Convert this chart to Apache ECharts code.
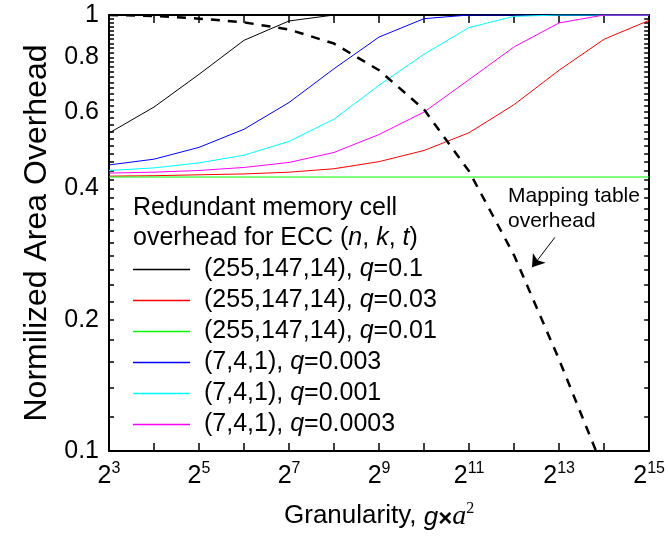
<!DOCTYPE html>
<html>
<head>
<meta charset="utf-8">
<script src="https://cdn.jsdelivr.net/npm/echarts@6/dist/echarts.min.js"></script>
<style>html,body{margin:0;padding:0;background:#fff}#c{width:668px;height:539px}</style>
</head>
<body>
<div id="c"></div>
<script>
// x positions are powers of two: 2^3 ... 2^15
const exponents = [3, 4, 5, 6, 7, 8, 9, 10, 11, 12, 13, 14, 15];
const xLabelExponents = [3, 5, 7, 9, 11, 13, 15];
const yMajorTicks = [0.1, 0.2, 0.4, 0.6, 0.8, 1];
const yMinorTicks = [0.12, 0.14, 0.16, 0.18, 0.22, 0.24, 0.26, 0.28, 0.3, 0.32, 0.34, 0.36, 0.38,
  0.42, 0.44, 0.46, 0.48, 0.5, 0.52, 0.54, 0.56, 0.58, 0.62, 0.64, 0.66, 0.68, 0.7, 0.72, 0.74, 0.76, 0.78,
  0.82, 0.84, 0.86, 0.88, 0.9, 0.92, 0.94, 0.96, 0.98];

const seriesNames = ['(255,147,14), q=0.1', '(255,147,14), q=0.03', '(255,147,14), q=0.01',
  '(7,4,1), q=0.003', '(7,4,1), q=0.001', '(7,4,1), q=0.0003'];
const seriesColors = ['#000000', '#ff0000', '#00ff00', '#0000ff', '#00ffff', '#ff00ff'];

const ecc255_q01   = [0.536, 0.615, 0.731, 0.875, 0.969, 1, 1, 1, 1, 1, 1, 1, 1];
const ecc255_q003  = [0.427, 0.428, 0.430, 0.432, 0.436, 0.444, 0.461, 0.489, 0.537, 0.623, 0.747, 0.880, 0.972];
const ecc255_q001  = [0.425, 0.425, 0.425, 0.425, 0.425, 0.425, 0.425, 0.425, 0.425, 0.425, 0.425, 0.425, 0.425];
const ecc7_q0003   = [0.453, 0.467, 0.497, 0.547, 0.630, 0.753, 0.890, 0.981, 1, 1, 1, 1, 1];
const ecc7_q0001   = [0.440, 0.446, 0.458, 0.477, 0.513, 0.577, 0.690, 0.813, 0.936, 0.993, 1, 1, 1];
const ecc7_q00003  = [0.434, 0.436, 0.440, 0.447, 0.459, 0.484, 0.532, 0.599, 0.711, 0.845, 0.959, 1, 1];
// mapping-table overhead: last point is where the dashed curve leaves the plot (y = 0.1)
const mappingExponents = [3, 4, 5, 6, 7, 8, 9, 10, 11, 12, 13, 13.82];
const mappingTable     = [1.0, 0.995, 0.981, 0.962, 0.926, 0.860, 0.747, 0.607, 0.438, 0.281, 0.162, 0.1];

const seriesValues = [ecc255_q01, ecc255_q003, ecc255_q001, ecc7_q0003, ecc7_q0001, ecc7_q00003];

const FONT = 'Liberation Sans';
const pairs = (xs, vals) => xs.map((e, i) => [Math.pow(2, e), vals[i]]);
const yAllTicks = yMajorTicks.concat(yMinorTicks).sort((a, b) => a - b);

const series = seriesValues.map((vals, i) => ({
  name: seriesNames[i],
  type: 'line',
  data: pairs(exponents, vals),
  symbol: 'none',
  lineStyle: { color: seriesColors[i], width: 1 },
  itemStyle: { color: seriesColors[i] }
}));
series.push({
  name: 'Mapping table overhead',
  type: 'line',
  data: pairs(mappingExponents, mappingTable),
  symbol: 'none',
  lineStyle: { color: '#000', width: 2.5, type: [9, 8] },
  itemStyle: { color: '#000' },
  markLine: {
    silent: true,
    symbol: ['none', 'arrow'],
    symbolSize: 12,
    label: { show: false },
    lineStyle: { color: '#000', width: 1, type: 'solid' },
    data: [[{ coord: [Math.pow(2, 12.905), 0.309] }, { coord: [Math.pow(2, 12.398), 0.2638] }]]
  }
});

function xAxisBase(pos) {
  return {
    type: 'log', logBase: 2, min: 8, max: 32768, interval: 1, position: pos,
    splitLine: { show: false },
    axisLine: { show: true, onZero: false, lineStyle: { color: '#000', width: 2 } },
    axisTick: { show: true, inside: true, length: 8, lineStyle: { color: '#000', width: 1.5 } },
    axisLabel: { show: false }
  };
}
function yAxisBase(pos) {
  return {
    type: 'log', logBase: 10, min: 0.1, max: 1, position: pos,
    splitLine: { show: false },
    axisLine: { show: true, lineStyle: { color: '#000', width: 2 } },
    axisTick: { show: true, inside: true, length: 5, customValues: yAllTicks, lineStyle: { color: '#000', width: 1.5 } },
    axisLabel: { show: false }
  };
}

const xBottom = xAxisBase('bottom');
xBottom.axisLabel = {
  show: true, margin: 10, color: '#000',
  customValues: xLabelExponents.map(e => Math.pow(2, e)),
  formatter: v => '{b|2}{s|' + Math.round(Math.log2(v)) + '}',
  rich: {
    b: { fontFamily: FONT, fontSize: 25, color: '#000', lineHeight: 28, verticalAlign: 'bottom' },
    s: { fontFamily: FONT, fontSize: 16, color: '#000', lineHeight: 16, verticalAlign: 'top' }
  }
};
xBottom.name = 'Granularity, {i|g}{x|×}{a|a}{s|2}';
xBottom.nameLocation = 'middle';
xBottom.nameGap = 50;
xBottom.nameTextStyle = {
  fontFamily: FONT, fontSize: 26, color: '#000',
  rich: {
    i: { fontFamily: FONT, fontSize: 26, fontStyle: 'italic', color: '#000', lineHeight: 30, verticalAlign: 'bottom' },
    x: { fontFamily: FONT, fontSize: 24, fontWeight: 'bold', color: '#000', lineHeight: 30, verticalAlign: 'bottom' },
    a: { fontFamily: 'Liberation Serif', fontSize: 28, fontStyle: 'italic', color: '#000', lineHeight: 30, verticalAlign: 'bottom' },
    s: { fontFamily: 'Liberation Serif', fontSize: 16, color: '#000', lineHeight: 16, verticalAlign: 'top' }
  }
};

const yLeft = yAxisBase('left');
yLeft.axisLabel = {
  show: true, customValues: yMajorTicks, margin: 10, color: '#000', fontFamily: FONT, fontSize: 25,
  formatter: v => String(Math.round(v * 10) / 10)
};
yLeft.name = 'Normilized Area Overhead';
yLeft.nameLocation = 'middle';
yLeft.nameGap = 50;
yLeft.nameTextStyle = { fontFamily: FONT, fontSize: 32, color: '#000' };

const option = {
  animation: false,
  backgroundColor: '#fff',
  grid: { left: 109, right: 15, top: 15, bottom: 88, containLabel: false },
  legend: {
    data: seriesNames,
    orient: 'vertical',
    left: 133, top: 257,
    padding: 0,
    icon: 'rect',
    itemWidth: 57, itemHeight: 1.5, itemGap: 6,
    formatter: name => '{g|}' + name.replace('q=', '{i|q}='),
    textStyle: {
      fontFamily: FONT, fontSize: 25, color: '#000', lineHeight: 25,
      rich: {
        g: { width: 9, lineHeight: 25 },
        i: { fontFamily: FONT, fontSize: 25, fontStyle: 'italic', lineHeight: 25, color: '#000' }
      }
    },
    selectedMode: false
  },
  xAxis: [xBottom, xAxisBase('top')],
  yAxis: [yLeft, yAxisBase('right')],
  graphic: [
    {
      type: 'text', left: 133, top: 193,
      style: {
        text: 'Redundant memory cell\noverhead for ECC ({i|n}, {i|k}, {i|t})',
        fontFamily: FONT, fontSize: 25, lineHeight: 30, fill: '#000',
        rich: { i: { fontFamily: FONT, fontSize: 25, fontStyle: 'italic', lineHeight: 30, fill: '#000' } }
      }
    },
    {
      type: 'text', left: 508, top: 184,
      style: { text: 'Mapping table\noverhead', fontFamily: FONT, fontSize: 21, lineHeight: 25, fill: '#000' }
    }
  ],
  series: series
};

const chart = echarts.init(document.getElementById('c'), null, { renderer: 'canvas' });
chart.setOption(option);
</script>
</body>
</html>
